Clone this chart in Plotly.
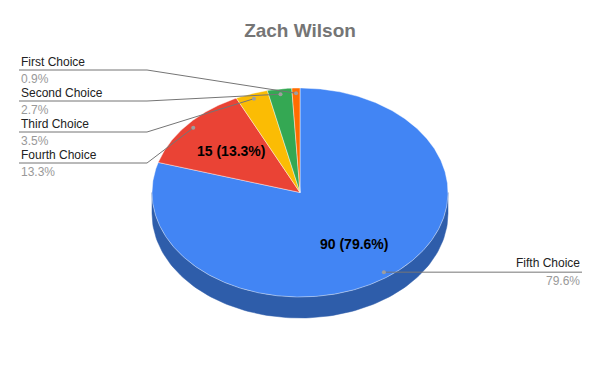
import numpy as np
import plotly.graph_objects as go

# ---- data ----
labels = ["Fifth Choice", "Fourth Choice", "Third Choice", "Second Choice", "First Choice"]
values = [90, 15, 4, 3, 1]
colors = ["#4285F4", "#EA4335", "#FBBC04", "#34A853", "#FF6D01"]
side_colors = ["#2E5DAA", "#A52F25", "#B08403", "#247639", "#B34C01"]
title_text = "Zach Wilson"

# ---- geometry (layout) ----
W, H = 600, 371
cx, cy, rx, ry, depth = 300, 192.5, 148, 104.5, 21
FONT = "Liberation Sans, Arial, sans-serif"

total = sum(values)
fracs = [v / total for v in values]
starts = np.concatenate([[0], np.cumsum(fracs)[:-1]]) * 360
ends = starts + np.array(fracs) * 360


def pt(theta, k=1.0, dy=0.0):
    t = np.radians(theta)
    return cx + k * rx * np.sin(t), cy - k * ry * np.cos(t) + dy


fig = go.Figure()

# side walls (front half only: 90..270 deg)
for s, e, sc in zip(starts, ends, side_colors):
    a, b = max(s, 90), min(e, 270)
    if a < b:
        th = np.linspace(a, b, 120)
        xt, yt = pt(th)
        xb, yb = pt(th[::-1], dy=depth)
        fig.add_trace(go.Scatter(x=np.concatenate([xt, xb, xt[:1]]),
                                 y=np.concatenate([yt, yb, yt[:1]]),
                                 mode="lines", fill="toself", fillcolor=sc,
                                 line=dict(color=sc, width=0.5),
                                 hoverinfo="skip", showlegend=False))

# top face slices
for s, e, c, lab in zip(starts, ends, colors, labels):
    th = np.linspace(s, e, max(4, int((e - s) * 2)))
    xa, ya = pt(th)
    fig.add_trace(go.Scatter(x=np.concatenate([[cx], xa, [cx]]),
                             y=np.concatenate([[cy], ya, [cy]]),
                             mode="lines", fill="toself", fillcolor=c,
                             line=dict(color="rgba(255,255,255,0.6)", width=0.7),
                             name=lab, hoverinfo="name", showlegend=False))

annotations = []
# inside labels
for v, f, s, e in zip(values, fracs, starts, ends):
    if f > 0.05:
        x, y = pt((s + e) / 2, k=0.61)
        annotations.append(dict(x=x, y=y, xref="x", yref="y", showarrow=False,
                                text=f"<b>{v} ({f*100:.1f}%)</b>",
                                font=dict(family=FONT, size=14, color="#000000")))

# outside labels with leader lines
left = [i for i in range(len(values)) if (starts[i] + ends[i]) / 2 > 180]
left = sorted(left, key=lambda i: -(starts[i] + ends[i]) / 2)  # top first
right = [i for i in range(len(values)) if i not in left]
left_y0, left_dy, kink_x, text_lx, text_rx = 70, 31, 147, 19, 582

lx, ly, dx, dyy = [], [], [], []
for j, i in enumerate(left):
    px, py = pt((starts[i] + ends[i]) / 2, k=0.95)
    yline = left_y0 + j * left_dy
    lx += [px, kink_x, text_lx, None]
    ly += [py, yline, yline, None]
    dx.append(px); dyy.append(py)
    annotations.append(dict(x=text_lx, y=yline - 8, xref="x", yref="y", showarrow=False,
                            xanchor="left", yanchor="middle", text=labels[i],
                            font=dict(family=FONT, size=12, color="#222222")))
    annotations.append(dict(x=text_lx, y=yline + 9, xref="x", yref="y", showarrow=False,
                            xanchor="left", yanchor="middle", text=f"{fracs[i]*100:.1f}%",
                            font=dict(family=FONT, size=12, color="#999999")))
for i in right:
    px, py = pt((starts[i] + ends[i]) / 2, k=0.95)
    lx += [px, text_rx, None]
    ly += [py, py, None]
    dx.append(px); dyy.append(py)
    annotations.append(dict(x=text_rx, y=py - 9, xref="x", yref="y", showarrow=False,
                            xanchor="right", yanchor="middle", text=labels[i],
                            font=dict(family=FONT, size=12, color="#222222")))
    annotations.append(dict(x=text_rx, y=py + 9, xref="x", yref="y", showarrow=False,
                            xanchor="right", yanchor="middle", text=f"{fracs[i]*100:.1f}%",
                            font=dict(family=FONT, size=12, color="#999999")))

fig.add_trace(go.Scatter(x=lx, y=ly, mode="lines", line=dict(color="#757575", width=1),
                         hoverinfo="skip", showlegend=False))
fig.add_trace(go.Scatter(x=dx, y=dyy, mode="markers", marker=dict(color="#9E9E9E", size=4),
                         hoverinfo="skip", showlegend=False))

fig.update_layout(
    width=W, height=H, margin=dict(l=0, r=0, t=0, b=0),
    paper_bgcolor="white", plot_bgcolor="white",
    title=dict(text=f"<b>{title_text}</b>", x=0.5, xanchor="center",
               y=1 - 30 / H, yanchor="middle",
               font=dict(family=FONT, size=19, color="#757575")),
    xaxis=dict(range=[0, W], visible=False, fixedrange=True),
    yaxis=dict(range=[H, 0], visible=False, fixedrange=True),
    annotations=annotations,
)

fig.write_html("out.html")
